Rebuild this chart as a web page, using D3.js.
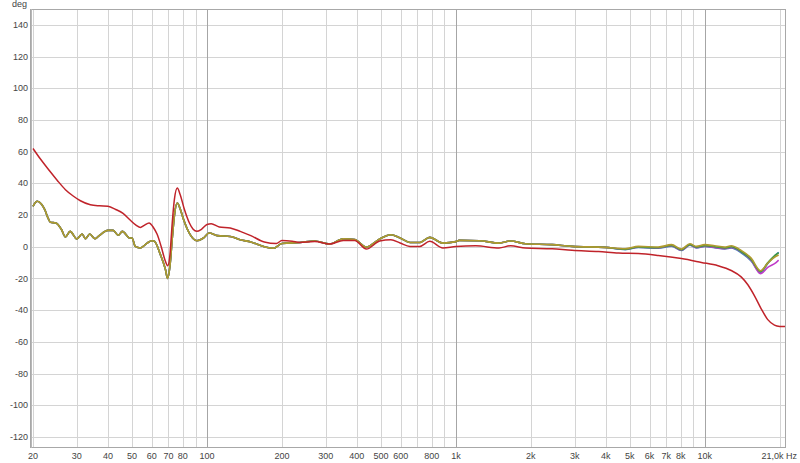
<!DOCTYPE html>
<html><head><meta charset="utf-8">
<script src="https://cdn.jsdelivr.net/npm/d3@7"></script>
<style>
html,body{margin:0;padding:0;background:#fff;}
svg{display:block;}
text{font-family:"Liberation Sans",Arial,sans-serif;font-size:9px;fill:#444;}
</style></head>
<body>
<script>
// ---- data ----
const yTicks = [-120,-100,-80,-60,-40,-20,0,20,40,60,80,100,120,140];
const xGrid = [20,30,40,50,60,70,80,90,100,200,300,400,500,600,700,800,900,1000,2000,3000,4000,5000,6000,7000,8000,9000,10000,20000];
const xMajor = [100,1000,10000];
const xTickVals = [20,30,40,50,60,70,80,100,200,300,400,500,600,800,1000,2000,3000,4000,5000,6000,7000,8000,10000];
const xTickText = ["20","30","40","50","60","70","80","100","200","300","400","500","600","800","1k","2k","3k","4k","5k","6k","7k","8k","10k"];
const endLabel = "21,0k Hz";
const yUnit = "deg";

const redFreq = [20,21.5,23,25,27,29,31,34,37,40,43,46,49,52,54,56,58.5,61,63,65.5,68,69.5,71,72.5,74,76,78,81,85,88,91,95,100,104,112,124,136,150,170,190,200,220,236,271,311,353,392,437,494,548,597,654,716,785,887,1000,1201,1491,1658,1905,2437,2930,3743,4506,5408,6501,8057,9688,11298,12766,13997,14894,15838,16829,17908,19050,20000,21000];
const redDeg  = [62,55,49,42,36,32,29,26.5,25.8,25.5,23.5,21,17,13.5,12.2,13.5,15,12,8,0,-9,-12,-5,15,30,37,33,24,15,11,9.7,11,14,14.5,12.5,11.8,9.7,7,3,2,4,3.5,2.7,3.3,1.7,4,4,-1.5,3.6,4.4,2.3,0.2,0.2,3.4,-0.8,0.2,0.6,-0.8,0.6,-0.8,-1.3,-2.3,-3,-4,-4.3,-5.5,-7.5,-9.9,-12,-15,-19,-24,-31,-39,-46,-49.5,-50.3,-50.4];

// common part of the four overlapping traces
const groupFreq = [20,20.8,21.6,22.3,23,23.5,24.7,26,27,28.2,30,31.5,32.5,33.8,35.5,37,40,42,44,45.7,49,50,51.5,54,57.5,60,61.5,65,68,69.5,71,72.5,74,76,78,80.6,85.6,91,96.8,102,110,124,136,150,170,185,200,236,271,311,353,392,437,494,548,597,654,716,785,887,1000,1031,1241,1491,1658,1905,2437,2930,3977];
const groupDeg  = [25.5,28.7,27,23.4,18,15.4,15,11,6.1,9.7,4.9,8,5,8,5,7.2,10.3,10.3,7.2,9.7,5.5,5.5,0.2,-0.8,2.3,3.8,3.4,-5,-14,-20,-12,5,20,27.6,24,17,7.6,3.8,5.5,8.7,7,6.5,4.4,3,0,-1,2,2.7,3.6,1.7,5,4.5,-0.2,4.9,7.6,5.5,2.7,2.7,5.9,2.3,3.2,4,3.8,2.3,3.6,1.9,1.3,0.2,-0.4];

// high-frequency tails where the four traces separate
const tailFreq   = [4792,5408,6501,7348,8057,8710,9252,9994,10960,12018,12766,13997,15349,16741,17908,19322,19800];
const goldTail   = [-1.3,0.2,-0.2,1.3,-1.5,1.9,0.2,1.3,0.6,-0.2,0.6,-2.3,-7.2,-15.2,-10.3,-6,-5.2];
const greenTail  = [-1.6,-0.2,-0.6,0.8,-2,1.3,-0.3,0.7,0,-0.8,0,-3,-8,-15.6,-10,-5,-4];
const blueTail   = [-1.8,-0.5,-0.9,0.4,-2.4,0.9,-0.8,0.2,-0.6,-1.4,-0.8,-3.8,-9,-16.3,-10.5,-5,-3.5];
const magentaTail= [-1.6,-0.3,-0.7,0.6,-2.2,1.1,-0.6,0.4,-0.4,-1.2,-0.5,-3.2,-8.5,-17,-13,-10,-8.5];

const seriesNames  = ["blue","magenta","green","gold"];
const seriesTails  = [blueTail, magentaTail, greenTail, goldTail];
const seriesColors = ["#3a80b8","#c03cc8","#3c9a40","#b09a30"];
const redColor = "#c0232a";

// ---- drawing ----
const W = 800, H = 463;
const svg = d3.select("body").append("svg").attr("width", W).attr("height", H);
const x = d3.scaleLog().domain([20, 21000]).range([33, 785]);
const y = d3.scaleLinear().domain([-127, 150]).range([448, 9]);

// background
svg.append("rect").attr("x",31).attr("y",9).attr("width",755).attr("height",439).attr("fill","#fff");

// horizontal grid
svg.append("g").selectAll("line").data(yTicks).join("line")
  .attr("x1",31).attr("x2",786).attr("y1",d=>Math.round(y(d))+0.5).attr("y2",d=>Math.round(y(d))+0.5)
  .attr("stroke","#d4d4d4").attr("stroke-width",1);
// vertical grid
svg.append("g").selectAll("line").data(xGrid).join("line")
  .attr("x1",d=>Math.round(x(d))+0.5).attr("x2",d=>Math.round(x(d))+0.5).attr("y1",9).attr("y2",448)
  .attr("stroke",d=>xMajor.includes(d)?"#a6a6a6":"#d4d4d4").attr("stroke-width",1);

// frame
svg.append("rect").attr("x",30.5).attr("y",9.5).attr("width",755).attr("height",438)
  .attr("fill","none").attr("stroke","#a8a8a8").attr("stroke-width",1);
svg.append("line").attr("x1",31.5).attr("x2",31.5).attr("y1",9).attr("y2",448).attr("stroke","#b8b8b8");

// y labels
svg.append("g").selectAll("text").data(yTicks).join("text")
  .attr("x",28).attr("y",d=>y(d)).attr("dy","0.35em").attr("text-anchor","end").text(d=>d);
svg.append("text").attr("x",12).attr("y",7).text(yUnit);

// x labels
svg.append("g").selectAll("text").data(xTickVals).join("text")
  .attr("x",d=>x(d)).attr("y",459).attr("text-anchor","middle").text((d,i)=>xTickText[i]);
svg.append("text").attr("x",797).attr("y",459).attr("text-anchor","end").text(endLabel);

// lines
const line = d3.line().x(d=>x(d[0])).y(d=>y(d[1])).curve(d3.curveMonotoneX);
const groupPts = groupFreq.map((f,i)=>[f, groupDeg[i]]);
const plot = svg.append("g");
seriesNames.forEach((name, k) => {
  const pts = groupPts.concat(tailFreq.map((f,i)=>[f, seriesTails[k][i]]));
  plot.append("path").attr("d", line(pts)).attr("fill","none")
    .attr("stroke", seriesColors[k]).attr("stroke-width",1.6).attr("stroke-linejoin","round");
});
plot.append("path").attr("d", line(redFreq.map((f,i)=>[f, redDeg[i]]))).attr("fill","none")
  .attr("stroke", redColor).attr("stroke-width",1.5).attr("stroke-linejoin","round");
</script>
</body></html>
